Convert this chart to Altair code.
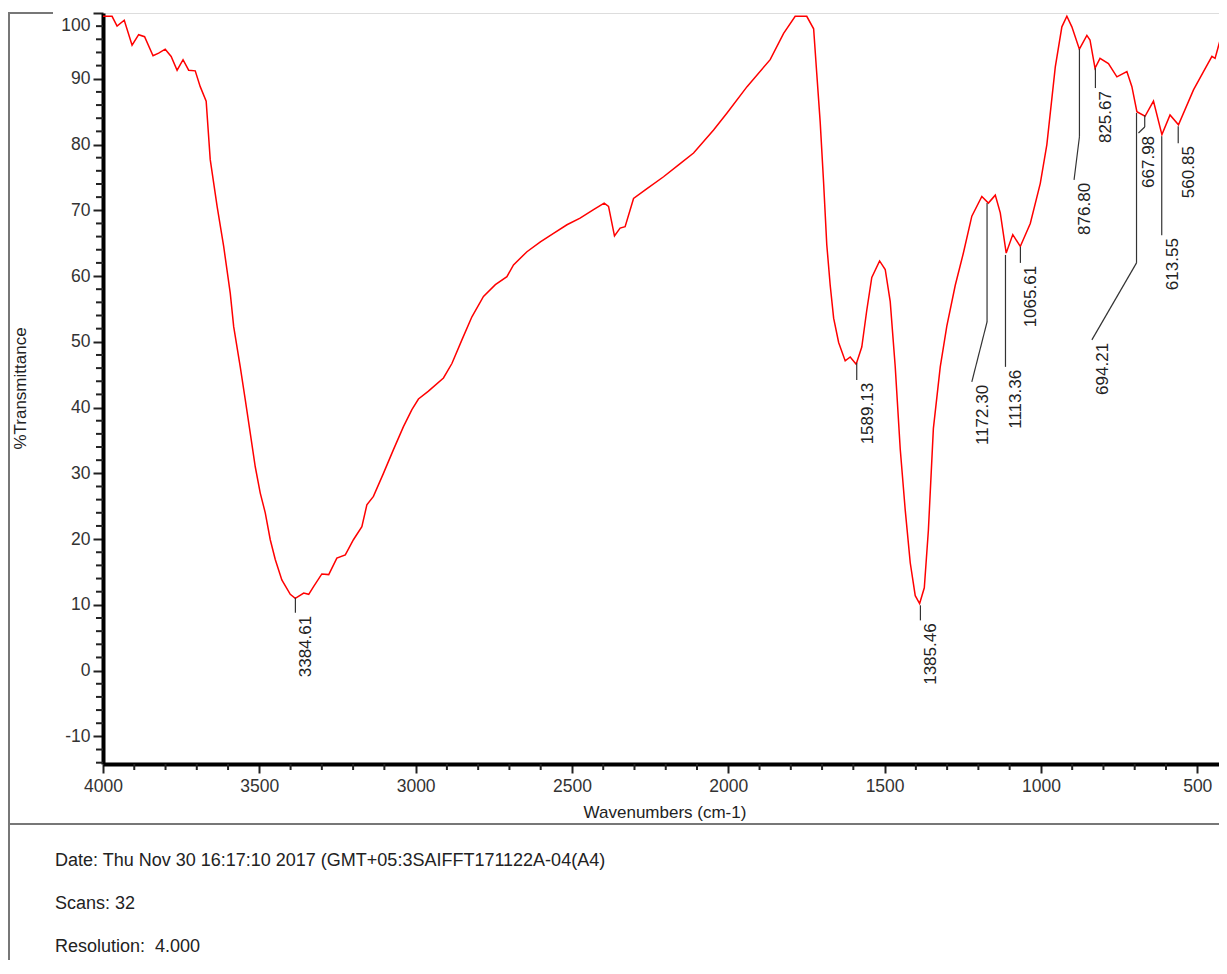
import altair as alt
import pandas as pd

# ---------------- data ----------------
wavenumbers = [4000, 3971, 3955, 3932, 3907, 3886, 3867, 3840, 3822, 3801, 3782, 3763, 3744, 3726, 3705,
               3689, 3670, 3657, 3635, 3614, 3593, 3582, 3561, 3545, 3529, 3513, 3497, 3481, 3465, 3449,
               3428, 3401, 3385, 3358, 3342, 3326, 3300, 3278, 3252, 3225, 3199, 3172, 3156, 3135, 3103,
               3071, 3039, 3012, 2991, 2959, 2911, 2884, 2852, 2820, 2783, 2745, 2708, 2687, 2644, 2601,
               2559, 2516, 2474, 2431, 2397, 2383, 2364, 2346, 2330, 2303, 2260, 2207, 2159, 2111, 2047,
               2004, 1940, 1866, 1823, 1786, 1749, 1727, 1717, 1706, 1695, 1685, 1674, 1663, 1647, 1626,
               1610, 1591, 1573, 1557, 1541, 1516, 1498, 1482, 1466, 1450, 1434, 1418, 1402, 1388, 1373,
               1360, 1344, 1322, 1301, 1274, 1248, 1221, 1189, 1168, 1146, 1130, 1111, 1090, 1066, 1034,
               1002, 981, 954, 933, 917, 901, 877, 853, 843, 827, 811, 784, 757, 725, 709,
               693, 667, 640, 613, 587, 560, 512, 480, 453, 443, 421, 411, 408]
transmittance = [99.5, 99.5, 98.0, 98.9, 95.1, 96.7, 96.4, 93.5, 93.9, 94.5, 93.4, 91.3, 92.9, 91.3, 91.2,
                 88.8, 86.6, 77.7, 70.6, 64.5, 57.4, 52.3, 46.2, 41.2, 36.1, 31.0, 27.0, 24.0, 19.9, 16.9,
                 13.8, 11.6, 11.0, 11.8, 11.6, 12.8, 14.7, 14.6, 17.1, 17.6, 19.9, 21.9, 25.2, 26.5, 30.0,
                 33.6, 37.1, 39.7, 41.3, 42.5, 44.5, 46.7, 50.3, 53.8, 56.9, 58.7, 59.9, 61.7, 63.7, 65.2,
                 66.5, 67.8, 68.8, 70.1, 71.1, 70.6, 66.1, 67.3, 67.5, 71.8, 73.3, 75.1, 76.9, 78.7, 82.2,
                 84.8, 88.8, 92.9, 96.9, 99.5, 99.5, 97.6, 90.8, 83.4, 74.1, 64.8, 58.6, 53.6, 49.9, 47.1,
                 47.7, 46.6, 49.2, 54.8, 59.8, 62.3, 61.0, 56.1, 46.2, 33.7, 24.4, 16.4, 11.4, 10.2, 12.6,
                 21.3, 36.8, 46.2, 52.4, 58.6, 63.5, 69.1, 72.1, 71.1, 72.3, 69.6, 63.5, 66.3, 64.5, 68.0,
                 74.1, 80.0, 91.8, 97.9, 99.5, 97.9, 94.5, 96.6, 95.9, 91.6, 93.1, 92.3, 90.3, 91.1, 88.8,
                 85.0, 84.3, 86.6, 81.5, 84.5, 83.0, 88.3, 91.1, 93.4, 93.1, 96.9, 99.5, 100.5]

# peak annotation leader segments (wavenumber / %T at both ends)
lead_w1 = [3384.61, 1589.13, 1385.46, 1172.30, 1172.30, 1113.36, 1065.61, 876.80, 876.80, 825.67,
           694.21, 694.21, 667.98, 667.98, 613.55, 560.85]
lead_t1 = [11.07, 46.80, 9.93, 71.12, 53.03, 63.21, 64.43, 94.53, 81.16, 91.63,
           84.80, 62.0, 84.49, 82.67, 81.27, 82.79]
lead_w2 = [3384.61, 1589.13, 1385.46, 1172.30, 1221, 1113.36, 1065.61, 876.80, 894, 825.67,
           694.21, 837, 667.98, 688, 613.55, 560.85]
lead_t2 = [8.79, 44.21, 7.64, 53.03, 43.91, 46.19, 62.0, 81.16, 74.62, 88.59,
           62.0, 50.29, 82.67, 81.76, 66.22, 80.21]

# peak labels and where they hang
peak_labels = ["3384.61", "1589.13", "1385.46", "1172.30", "1113.36", "1065.61",
               "876.80", "825.67", "694.21", "667.98", "613.55", "560.85"]
label_w = [3384.61, 1589.13, 1385.46, 1221, 1113.36, 1065.61, 894, 825.67, 837, 688, 613.55, 560.85]
label_t = [8.79, 44.21, 7.64, 43.91, 46.19, 62.0, 74.62, 88.59, 50.29, 81.76, 66.22, 80.21]

x_ticks = [4000, 3500, 3000, 2500, 2000, 1500, 1000, 500]
y_ticks = [-10, 0, 10, 20, 30, 40, 50, 60, 70, 80, 90, 100]
x_minor = [w for w in range(500, 4000, 100) if w % 500 != 0]
y_minor = [v for v in range(-14, 100, 2) if v % 10 != 0]

footer_lines = ["Date: Thu Nov 30 16:17:10 2017 (GMT+05:3SAIFFT171122A-04(A4)",
                "Scans: 32",
                "Resolution:\u00a0 4.000"]

# ---------------- chart ----------------
FONT = "Liberation Sans"
W, H = 1123, 751

spec = pd.DataFrame({"wn": wavenumbers, "t": transmittance})
leads = pd.DataFrame({"wn": lead_w1, "t": lead_t1, "w2": lead_w2, "t2": lead_t2})
labels = pd.DataFrame({"label": peak_labels, "wn": label_w, "t": label_t})
xm = pd.DataFrame({"wn": x_minor})
ym = pd.DataFrame({"t": y_minor})
one = pd.DataFrame({"a": [0]})

xs = alt.Scale(domain=[4000, 408], nice=False, zero=False)
ys = alt.Scale(domain=[-14.2, 100], nice=False, zero=False)

x_axis = alt.Axis(values=x_ticks, labelExpr="'' + datum.value", title="Wavenumbers (cm-1)",
                  grid=False, domainColor="#000000", domainWidth=4, tickColor="#222222",
                  tickWidth=2, tickSize=9, labelPadding=4, labelFontSize=17.5, labelColor="#333333",
                  labelFont=FONT, labelFlush=False, labelOverlap=False,
                  titleFont=FONT, titleFontSize=17, titleFontWeight="normal", titleColor="#222222",
                  titleX=W / 2, titleY=48, titleBaseline="middle", titleAlign="center")
y_axis = alt.Axis(values=y_ticks, labelExpr="'' + datum.value", title="%Transmittance",
                  grid=False, domainColor="#000000", domainWidth=4, tickColor="#222222",
                  tickWidth=2, tickSize=10, labelPadding=3, labelFontSize=17.5, labelColor="#333333",
                  labelFont=FONT, labelOverlap=False,
                  labelOffset={"condition": {"test": "datum.value == 100", "value": 12}, "value": 0},
                  titleFont=FONT, titleFontSize=17, titleFontWeight="normal", titleColor="#222222",
                  titleAngle=270, titleX=-83, titleY=375, titleAlign="center", titleBaseline="middle")


def X(field):
    return alt.X(field, type="quantitative", scale=xs, axis=x_axis)


def Y(field):
    return alt.Y(field, type="quantitative", scale=ys, axis=y_axis)


spectrum = alt.Chart(spec).mark_line(color="#ff0000", strokeWidth=1.5, clip=True).encode(
    x=X("wn"), y=Y("t"))

leaders = alt.Chart(leads).mark_rule(color="#333333", strokeWidth=1.2).encode(
    x=X("wn"), x2="w2:Q", y=Y("t"), y2="t2:Q")

# angle 270: dx runs along the text (screen up), dy across it (screen right)
peak_text = alt.Chart(labels).mark_text(angle=270, align="right", baseline="middle", dx=-3, dy=11,
                                         fontSize=17, font=FONT, color="#222222").encode(
    x=X("wn"), y=Y("t"), text="label:N")

x_minor_ticks = alt.Chart(xm).mark_rule(color="#222222", strokeWidth=2).encode(
    x=X("wn"), y=alt.value(H), y2=alt.value(H + 6))
y_minor_ticks = alt.Chart(ym).mark_rule(color="#222222", strokeWidth=2).encode(
    y=Y("t"), x=alt.value(-7), x2=alt.value(0))

frame_left = alt.Chart(one).mark_rule(color="#777777", strokeWidth=2).encode(
    x=alt.value(-94), y=alt.value(0), y2=alt.value(960))
frame_top = alt.Chart(one).mark_rule(color="#777777", strokeWidth=2).encode(
    x=alt.value(-95), x2=alt.value(-50), y=alt.value(0))
separator = alt.Chart(one).mark_rule(color="#777777", strokeWidth=2).encode(
    x=alt.value(-95), x2=alt.value(W + 20), y=alt.value(811))

footer = alt.Chart(one).mark_text(align="left", baseline="top", fontSize=18, font=FONT,
                                  color="#222222", lineBreak="\n", lineHeight=43).encode(
    x=alt.value(-48), y=alt.value(839), text=alt.value("\n".join(footer_lines)))

chart = alt.layer(
    spectrum, leaders, peak_text, x_minor_ticks, y_minor_ticks,
    frame_left, frame_top, separator, footer,
).properties(
    width=W, height=H,
    autosize=alt.AutoSizeParams(type="none"),
    padding={"left": 95, "top": 5, "right": -7, "bottom": 196},
).configure_view(stroke="#777777", strokeWidth=2).configure(font=FONT)

chart.save("out.html", embed_options={"renderer": "svg", "actions": False})
